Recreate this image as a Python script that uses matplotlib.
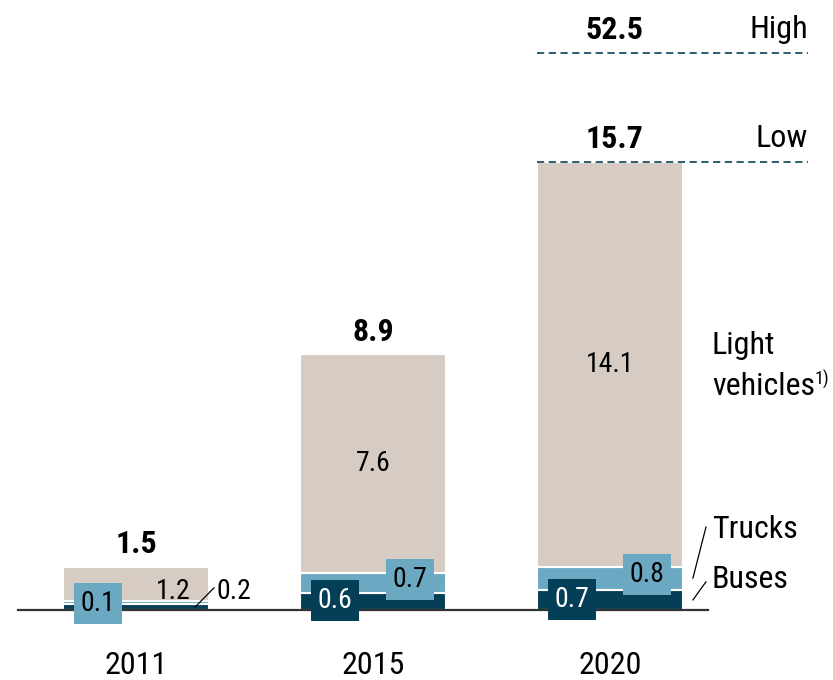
import matplotlib
matplotlib.use('Agg')
import matplotlib.pyplot as plt
from matplotlib import font_manager
import numpy as np


def _is_bold(w):
    if isinstance(w, str):
        return w in ('bold', 'heavy', 'black', 'demibold', 'semibold', 'extra bold')
    return w >= 600


# pick a narrow face (with a bold cut) if one is installed
FAMILY, STRETCH, SCALE = 'Liberation Sans', 'normal', 0.92
narrow = {}
for f in font_manager.fontManager.ttflist:
    if 'Narrow' in f.name or 'Condensed' in f.name:
        narrow.setdefault(f.name, set()).add(_is_bold(f.weight))
preferred = ['Liberation Sans Narrow', 'Arial Narrow', 'Roboto Condensed',
             'Open Sans Condensed', 'Noto Sans Condensed']
cands = [n for n in preferred if n in narrow and True in narrow[n]]
cands += sorted(n for n in narrow if True in narrow[n] and n not in cands)
if cands:
    FAMILY, SCALE = cands[0], 1.0
plt.rcParams['font.family'] = [FAMILY, 'DejaVu Sans']

# data
years = ['2011', '2015', '2020']
buses = [0.2, 0.6, 0.7]
trucks = [0.1, 0.7, 0.8]
light = [1.2, 7.6, 14.1]
totals = ['1.5', '8.9', '15.7']
high_value = '52.5'
high_pos = 19.4   # broken axis position of the "High" scenario

COLORS = {
    'buses': '#053f57',
    'trucks': '#6aa9c1',
    'light': '#d6ccc4',
    'dash': '#1d4f66',
}

x = np.arange(len(years))
width = 0.62
FS = 23 * SCALE
FS_SEG = 20 * SCALE

fig = plt.figure(figsize=(8.33, 6.8), dpi=100)
ax = fig.add_axes([0, 0, 1, 1])
ax.set_xlim(-0.574, 2.941)
ax.set_ylim(-2.44, 21.25)
ax.axis('off')

b = np.array(buses)
t = np.array(trucks)
l = np.array(light)
ax.bar(x, b, width, color=COLORS['buses'], edgecolor='white', linewidth=1.5)
ax.bar(x, t, width, bottom=b, color=COLORS['trucks'], edgecolor='white', linewidth=1.5)
ax.bar(x, l, width, bottom=b + t, color=COLORS['light'], edgecolor='white', linewidth=1.5)

# baseline
ax.plot([-0.498, 2.414], [0, 0], color='#333333', lw=1.6, zorder=3)

# year labels and totals
for i in range(len(years)):
    ax.text(x[i], -1.92, years[i], ha='center', va='center', fontsize=FS)
    top = b[i] + t[i] + l[i]
    if i < 2:
        ax.text(x[i], top + 0.8, totals[i], ha='center', va='center',
                fontsize=FS, fontweight='bold')

# segment labels 2015 / 2020
for i in [1, 2]:
    ax.text(x[i] - 0.16, b[i] / 2 + 0.02, f'{buses[i]}', ha='center', va='center',
            fontsize=FS_SEG, color='white',
            bbox=dict(boxstyle='square,pad=0.25', fc=COLORS['buses'], ec='none'))
    ax.text(x[i] + 0.156, b[i] + t[i] / 2 + 0.12, f'{trucks[i]}', ha='center', va='center',
            fontsize=FS_SEG, color='black',
            bbox=dict(boxstyle='square,pad=0.25', fc=COLORS['trucks'], ec='none'))
    ax.text(x[i], b[i] + t[i] + l[i] / 2, f'{light[i]}', ha='center', va='center',
            fontsize=FS_SEG)

# 2011 labels
ax.text(x[0] - 0.16, 0.21, f'{trucks[0]}', ha='center', va='center', fontsize=FS_SEG,
        bbox=dict(boxstyle='square,pad=0.25', fc=COLORS['trucks'], ec='none'), zorder=4)
ax.text(x[0] + 0.156, 0.63, f'{light[0]}', ha='center', va='center', fontsize=FS_SEG)
ax.plot([0.249, 0.329], [0.10, 0.77], color='black', lw=0.9)
ax.text(0.34, 0.65, f'{buses[0]}', ha='left', va='center', fontsize=FS_SEG)

# scenario lines
low_top = b[2] + t[2] + l[2]
for yv, val, name in [(high_pos, high_value, 'High'), (low_top, totals[2], 'Low')]:
    ax.plot([1.69, 2.835], [yv, yv], color=COLORS['dash'], lw=1.3,
            linestyle=(0, (4, 2.5)))
    ax.text(2.02, yv + 0.82, val, ha='center', va='center', fontsize=FS, fontweight='bold')
    ax.text(2.835, yv + 0.82, name, ha='right', va='center', fontsize=FS)

# legend labels on the right
ax.text(2.43, 9.23, 'Light', ha='left', va='center', fontsize=FS)
vt = ax.text(2.43, 7.77, 'vehicles', ha='left', va='center', fontsize=FS)
ax.annotate('1)', xy=(1.0, 0.75), xycoords=vt, xytext=(0, 0), textcoords='offset points',
            ha='left', va='center', fontsize=13 * SCALE)
ax.text(2.43, 2.79, 'Trucks', ha='left', va='center', fontsize=FS)
ax.text(2.43, 1.05, 'Buses', ha='left', va='center', fontsize=FS)
ax.plot([2.405, 2.35], [2.89, 1.11], color='black', lw=0.9)
ax.plot([2.405, 2.35], [0.98, 0.35], color='black', lw=0.9)

fig.savefig('out.png', dpi=100, facecolor='white')
